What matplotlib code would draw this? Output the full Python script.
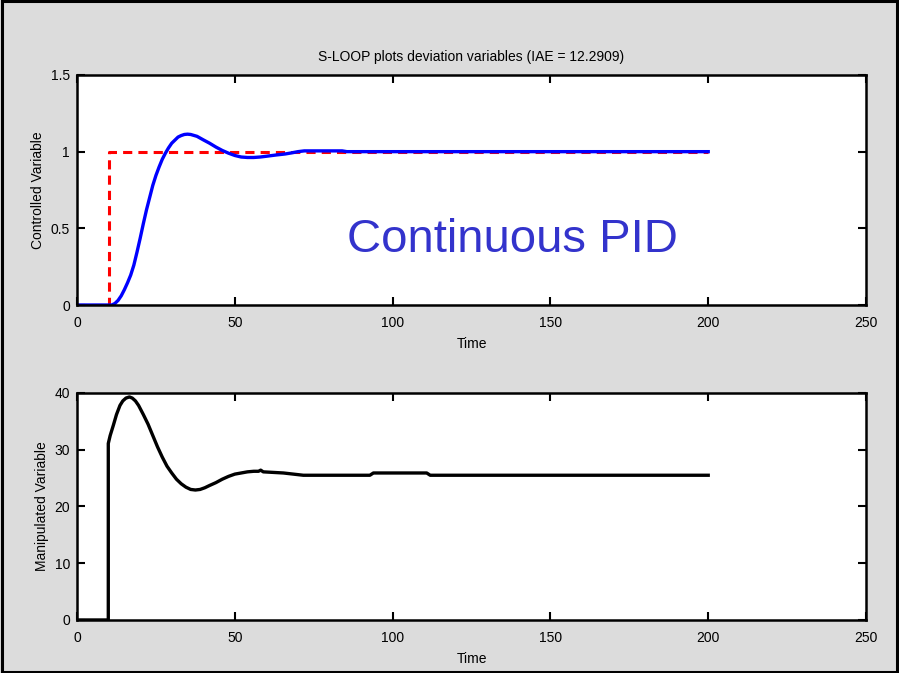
import matplotlib
matplotlib.use("Agg")
import matplotlib.pyplot as plt
from matplotlib.patches import Rectangle

plt.rcParams['font.family'] = ['Liberation Sans', 'DejaVu Sans']

# setpoint (red dashed)
sp_t = [0, 10, 10, 200]
sp_y = [0, 0, 1, 1]

# controlled variable (blue)
cv_t = [0, 11, 12, 13, 14, 15, 16, 17, 18, 19, 20, 21, 22, 23, 24, 25, 26, 27, 28,
        29, 30, 31, 32, 33, 34, 35, 36, 38, 40, 42, 44, 46, 48, 50, 52, 54, 56, 58,
        60, 63, 66, 68, 70, 72, 84, 85.5, 200]
cv_y = [0, 0, 0.01, 0.03, 0.06, 0.1, 0.145, 0.195, 0.26, 0.345, 0.435, 0.53, 0.62,
        0.7, 0.78, 0.845, 0.9, 0.95, 0.99, 1.025, 1.055, 1.075, 1.095, 1.105, 1.112,
        1.114, 1.112, 1.1, 1.077, 1.055, 1.03, 1.008, 0.99, 0.975, 0.965, 0.962,
        0.962, 0.965, 0.97, 0.978, 0.985, 0.992, 1.0, 1.005, 1.005, 1.0, 1.0]

# manipulated variable (black)
mv_t = [0, 9.9, 9.9, 10.5, 11.5, 12.5, 13.6, 14.5, 15.5, 16.6, 17.5, 18.5, 19.5,
        21, 22.5, 24, 25.5, 27, 28.5, 30, 31.5, 33, 34.5, 36, 37.5, 39, 40.5, 42,
        44, 46, 48, 50, 52, 54, 56, 57.5, 58.2, 59, 65.4, 71.7, 92.8, 93.9, 110.8,
        111.9, 200]
mv_y = [0, 0, 31.1, 32.5, 34.3, 36.2, 37.8, 38.6, 39.1, 39.3, 39.1, 38.6, 37.8,
        36.2, 34.5, 32.5, 30.5, 28.7, 27.1, 25.9, 24.8, 24.0, 23.4, 23.0, 22.9,
        23.0, 23.3, 23.7, 24.2, 24.8, 25.3, 25.7, 25.9, 26.1, 26.2, 26.2, 26.4,
        26.1, 25.9, 25.5, 25.5, 25.9, 25.9, 25.5, 25.5]

fig = plt.figure(figsize=(8.99, 6.73), dpi=100, facecolor='#dcdcdc')

ax1 = fig.add_axes([0.0857, 0.5468, 0.8776, 0.3418])
ax2 = fig.add_axes([0.0857, 0.0788, 0.8776, 0.3373])

ax1.plot(sp_t, sp_y, color='#ff0000', linestyle='--', linewidth=2.2, dashes=(3, 2))
ax1.plot(cv_t, cv_y, color='#0000ff', linewidth=2.4)
ax1.set_xlim(0, 250)
ax1.set_ylim(0, 1.5)
ax1.set_xticks([0, 50, 100, 150, 200, 250])
ax1.set_yticks([0, 0.5, 1, 1.5])
ax1.set_yticklabels(['0', '0.5', '1', '1.5'])
ax1.set_xlabel('Time', fontsize=10, labelpad=5)
ax1.set_ylabel('Controlled Variable', fontsize=10)
ax1.set_title('S-LOOP plots deviation variables (IAE = 12.2909)', fontsize=10, pad=10)
ax1.text(85.5, 0.343, 'Continuous PID', fontsize=34, color='#3333cc')

ax2.plot(mv_t, mv_y, color='black', linewidth=2.4)
ax2.set_xlim(0, 250)
ax2.set_ylim(0, 40)
ax2.set_xticks([0, 50, 100, 150, 200, 250])
ax2.set_yticks([0, 10, 20, 30, 40])
ax2.set_xlabel('Time', fontsize=10, labelpad=5)
ax2.set_ylabel('Manipulated Variable', fontsize=10)

for ax in (ax1, ax2):
    ax.set_facecolor('white')
    for s in ax.spines.values():
        s.set_linewidth(1.8)
    ax.tick_params(direction='in', length=6, width=1.5, top=True, right=True,
                   labelsize=10, pad=8)
    ax.tick_params(axis='y', pad=5)

# window frame
fig.patches.append(Rectangle((0.002, 0.002), 0.996, 0.996, transform=fig.transFigure,
                             fill=False, edgecolor='black', linewidth=2.2))

fig.savefig('out.png', dpi=100, facecolor=fig.get_facecolor())
